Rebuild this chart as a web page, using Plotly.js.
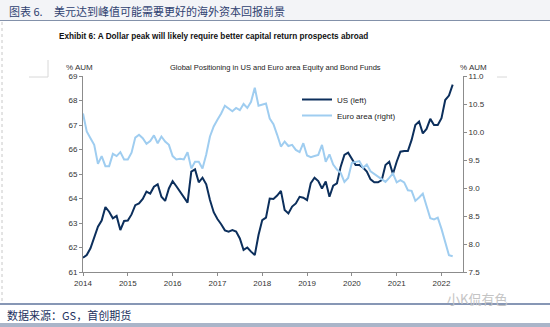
<!DOCTYPE html>
<html>
<head>
<meta charset="utf-8">
<script src="https://cdn.plot.ly/plotly-3.0.1.min.js"></script>
<style>
html,body{margin:0;padding:0;background:#fff;}
#chart{width:550px;height:327px;}
</style>
</head>
<body>
<div id="chart"></div>
<script>
// ---- data (monthly, Jan 2014 .. Apr 2022) ----
const startYear = 2014;
const usLeft = [
 61.58,61.69,61.97,62.41,62.85,63.10,63.65,63.46,63.19,63.29,62.71,63.08,
 63.10,63.35,63.73,63.80,63.98,64.28,64.20,64.48,64.58,64.07,63.90,64.41,
 64.71,64.50,64.28,64.07,63.83,65.10,65.19,64.66,64.85,64.58,63.94,63.44,
 63.16,62.95,62.70,62.65,62.71,62.65,62.37,61.90,62.00,61.83,61.69,62.51,
 63.12,63.22,64.00,63.98,64.12,64.31,63.53,63.39,63.67,63.80,64.07,64.03,
 63.93,64.63,64.85,64.71,64.41,64.69,64.07,64.52,64.62,65.30,65.78,65.87,
 65.63,65.37,65.37,65.26,65.10,64.78,64.66,64.66,64.75,65.37,65.50,65.00,
 65.50,65.91,65.94,65.94,66.39,67.00,67.14,66.66,66.84,67.25,67.00,67.00,
 67.28,68.02,68.20,68.65
];
const euroRight = [
 10.33,10.01,9.89,9.77,9.43,9.57,9.39,9.39,9.61,9.57,9.64,9.51,
 9.51,9.63,9.90,9.95,9.89,9.79,9.84,9.94,9.80,9.92,9.83,9.77,
 9.57,9.51,9.52,9.51,9.64,9.35,9.47,9.47,9.35,9.60,9.92,10.10,
 10.22,10.33,10.47,10.42,10.37,10.43,10.39,10.50,10.43,10.54,10.79,10.47,
 10.49,10.51,10.24,10.14,9.95,9.74,9.83,9.75,9.77,9.68,9.64,9.80,
 9.58,9.55,9.57,9.59,9.77,9.47,9.60,9.42,9.33,9.27,9.11,9.18,
 9.45,9.47,9.48,9.36,9.42,9.30,9.25,9.20,9.15,9.11,9.18,9.26,
 9.10,9.14,9.10,8.96,8.95,8.77,8.83,8.90,8.68,8.46,8.44,8.47,
 8.27,8.03,7.80,7.78
];
const yearTicks = [2014,2015,2016,2017,2018,2019,2020,2021,2022];
const seriesNames = ['US (left)', 'Euro area (right)'];
const headerLabel = '图表 6.';
const headerText = '美元达到峰值可能需要更好的海外资本回报前景';
const exhibitText = 'Exhibit 6: A Dollar peak will likely require better capital return prospects abroad';
const subTitle = 'Global Positioning in US and Euro area Equity and Bond Funds';
const sourceText = '数据来源：GS，首创期货';
const watermark = '小K侃有色';

const xMonths = usLeft.map((_, i) => startYear + i / 12);

// ---- layout helpers ----
const W = 550, H = 327;
const M = {l: 83, r: 87, t: 76, b: 55};
const pw = W - M.l - M.r, ph = H - M.t - M.b;
const px = x => (x - M.l) / pw;
const py = y => (H - M.b - y) / ph;

const axisFont = {family: 'Liberation Sans, Arial, sans-serif', size: 8, color: '#333'};
const axisColor = '#8c8c8c';
const legendFont = {family: 'Liberation Sans, Arial, sans-serif', size: 8, color: '#222'};

const traces = [
  {x: xMonths, y: usLeft, name: seriesNames[0], type: 'scatter', mode: 'lines',
   line: {color: '#0c2f5c', width: 2}, yaxis: 'y', legend: 'legend'},
  {x: xMonths, y: euroRight, name: seriesNames[1], type: 'scatter', mode: 'lines',
   line: {color: '#9fcdf0', width: 2}, yaxis: 'y2', legend: 'legend2'}
];

const layout = {
  width: W, height: H,
  margin: M,
  paper_bgcolor: '#ffffff', plot_bgcolor: '#ffffff',
  showlegend: true,
  legend: {x: px(297), y: py(85), xanchor: 'left', yanchor: 'top', font: legendFont,
           bgcolor: 'rgba(0,0,0,0)', itemwidth: 30},
  legend2: {x: px(297), y: py(101), xanchor: 'left', yanchor: 'top', font: legendFont,
           bgcolor: 'rgba(0,0,0,0)', itemwidth: 30},
  xaxis: {range: [2014, 2022.48], tickvals: yearTicks, ticktext: yearTicks.map(String),
          showgrid: false, zeroline: false, showline: true, linecolor: axisColor, linewidth: 1,
          ticks: 'outside', ticklen: 3, tickcolor: axisColor, tickfont: axisFont},
  yaxis: {range: [61, 69], dtick: 1, showgrid: false, zeroline: false, showline: true,
          linecolor: axisColor, linewidth: 1, ticks: 'outside', ticklen: 3, tickcolor: axisColor,
          tickfont: axisFont},
  yaxis2: {range: [7.5, 11.0], dtick: 0.5, tickformat: '.1f', overlaying: 'y', side: 'right',
           showgrid: false, zeroline: false, showline: true, linecolor: axisColor, linewidth: 1,
           ticks: 'outside', ticklen: 3, tickcolor: axisColor, tickfont: axisFont},
  shapes: [
    {type: 'rect', xref: 'paper', yref: 'paper', x0: px(0), x1: px(550), y0: py(0), y1: py(20),
     fillcolor: '#f3f4f7', line: {width: 0}, layer: 'below'},
    {type: 'line', xref: 'paper', yref: 'paper', x0: px(0), x1: px(550), y0: py(20.5), y1: py(20.5),
     line: {color: '#8391aa', width: 1}},
    {type: 'line', xref: 'paper', yref: 'paper', x0: px(2), x1: px(2), y0: py(22), y1: py(303),
     line: {color: '#c8c8c8', width: 1, dash: 'dot'}},
    {type: 'line', xref: 'paper', yref: 'paper', x0: px(29), x1: px(48), y0: py(77), y1: py(77),
     line: {color: '#d8d8d8', width: 1}},
    {type: 'line', xref: 'paper', yref: 'paper', x0: px(48), x1: px(48), y0: py(60), y1: py(77),
     line: {color: '#d8d8d8', width: 1}},
    {type: 'line', xref: 'paper', yref: 'paper', x0: px(497), x1: px(507), y0: py(77), y1: py(77),
     line: {color: '#d8d8d8', width: 1}},
    {type: 'line', xref: 'paper', yref: 'paper', x0: px(0), x1: px(550), y0: py(304), y1: py(304),
     line: {color: '#5f749c', width: 1.5}},
    {type: 'rect', xref: 'paper', yref: 'paper', x0: px(0), x1: px(550), y0: py(323), y1: py(327),
     fillcolor: '#aab5c9', line: {width: 0}}
  ],
  annotations: [
    {text: headerLabel, xref: 'paper', yref: 'paper', x: px(7), y: py(11), xanchor: 'left', yanchor: 'middle',
     showarrow: false, font: {family: 'Noto Sans CJK SC, sans-serif', size: 11, color: '#2f4170'}},
    {text: headerText, xref: 'paper', yref: 'paper', x: px(52), y: py(11), xanchor: 'left', yanchor: 'middle',
     showarrow: false, font: {family: 'Noto Sans CJK SC, sans-serif', size: 11, color: '#2f4170'}},
    {text: '<b>' + exhibitText + '</b>', xref: 'paper', yref: 'paper', x: px(57), y: py(37),
     xanchor: 'left', yanchor: 'middle', showarrow: false,
     font: {family: 'Liberation Sans, Arial, sans-serif', size: 8.2, color: '#111'}},
    {text: subTitle, xref: 'paper', yref: 'paper', x: px(275), y: py(68), xanchor: 'center', yanchor: 'middle',
     showarrow: false, font: {family: 'Liberation Sans, Arial, sans-serif', size: 7.5, color: '#222'}},
    {text: '% AUM', xref: 'paper', yref: 'paper', x: px(79), y: py(68), xanchor: 'center', yanchor: 'middle',
     showarrow: false, font: axisFont},
    {text: '% AUM', xref: 'paper', yref: 'paper', x: px(473), y: py(68), xanchor: 'center', yanchor: 'middle',
     showarrow: false, font: axisFont},
    {text: sourceText, xref: 'paper', yref: 'paper', x: px(5), y: py(315), xanchor: 'left', yanchor: 'middle',
     showarrow: false, font: {family: 'Noto Sans CJK SC, sans-serif', size: 11, color: '#23325e'}},
    {text: watermark, xref: 'paper', yref: 'paper', x: px(445), y: py(298), xanchor: 'left', yanchor: 'middle',
     showarrow: false, font: {family: 'Noto Sans CJK SC, sans-serif', size: 13, color: '#c4c4c4'}}
  ]
};

Plotly.newPlot('chart', traces, layout, {staticPlot: true, displayModeBar: false});
</script>
</body>
</html>
